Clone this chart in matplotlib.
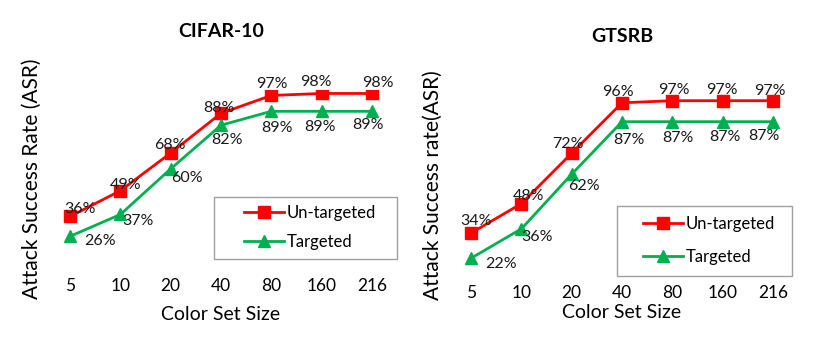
import matplotlib
matplotlib.use("Agg")
import matplotlib.pyplot as plt
from matplotlib.patches import Rectangle

plt.rcParams['font.family'] = ['Lato', 'DejaVu Sans']

sizes = ['5', '10', '20', '40', '80', '160', '216']

cifar_untargeted = [36, 49, 68, 88, 97, 98, 98]
cifar_targeted = [26, 37, 60, 82, 89, 89, 89]

gtsrb_untargeted = [34, 48, 72, 96, 97, 97, 97]
gtsrb_targeted = [22, 36, 62, 87, 87, 87, 87]

# label offsets in pixels (dx, dy), hand placed like the original
cifar_un_off = [(10, 7), (5, 6), (-1, 8), (-2, 5), (1, 11), (-6, 11), (6, 10)]
cifar_tg_off = [(30, -5), (18, -7), (16, -9), (6, -15), (6, -17), (-2, -16), (-4, -14)]
gtsrb_un_off = [(5, 12), (7, 8), (-4, 9), (-4, 11), (2, 11), (-1, 11), (-3, 10)]
gtsrb_tg_off = [(30, -6), (16, -8), (12, -12), (7, -18), (6, -16), (2, -15), (-9, -14)]

RED = '#FF0000'
GREEN = '#00B050'
W, H = 815, 350

fig = plt.figure(figsize=(8.15, 3.5), dpi=100)
ax1 = fig.add_axes([45 / W, 1 - 268 / H, 352 / W, 178.5 / H])
ax2 = fig.add_axes([446 / W, 1 - 275 / H, 352 / W, 180.6 / H])


def draw(ax, untargeted, targeted, un_off, tg_off, title, ylabel, ylim, xlabelpad,
         box, leg_anchor, leg_spacing):
    x = range(len(sizes))
    ax.plot(x, untargeted, color=RED, lw=2, marker='s', ms=8, label='Un-targeted')
    ax.plot(x, targeted, color=GREEN, lw=2, marker='^', ms=8, label='Targeted')
    for i, v in enumerate(untargeted):
        ax.annotate(f'{v}%', (i, v), xytext=un_off[i], textcoords='offset pixels',
                    ha='center', va='center', fontsize=11.5, color='#1a1a1a')
    for i, v in enumerate(targeted):
        ax.annotate(f'{v}%', (i, v), xytext=tg_off[i], textcoords='offset pixels',
                    ha='center', va='center', fontsize=11.5, color='#1a1a1a')
    ax.set_xlim(-0.5, len(sizes) - 0.5)
    ax.set_ylim(*ylim)
    ax.set_xticks(list(x))
    ax.set_xticklabels(sizes, fontsize=12.5)
    ax.set_yticks([])
    ax.tick_params(axis='x', length=0, pad=7)
    for s in ax.spines.values():
        s.set_visible(False)
    ax.set_title(title, fontsize=14, fontweight='bold', pad=38)
    ax.set_xlabel('Color Set Size', fontsize=14, labelpad=xlabelpad)
    ax.set_ylabel(ylabel, fontsize=15, labelpad=2)

    # legend box (Excel style: wide side padding, tight vertical padding)
    x0, y0, x1, y1 = box
    fig.patches.append(Rectangle((x0 / W, 1 - y1 / H), (x1 - x0) / W, (y1 - y0) / H,
                                 transform=fig.transFigure, fill=False,
                                 edgecolor='#A0A0A0', lw=1.0))
    ax.legend(loc='center left', bbox_to_anchor=(leg_anchor[0] / W, 1 - leg_anchor[1] / H),
              bbox_transform=fig.transFigure, fontsize=12, frameon=False,
              handlelength=2.4, handletextpad=0.15, borderpad=0, borderaxespad=0,
              labelspacing=leg_spacing)


draw(ax1, cifar_untargeted, cifar_targeted, cifar_un_off, cifar_tg_off,
     'CIFAR-10', 'Attack Success Rate (ASR)', (10, 100), 9,
     (214, 197, 397, 259), (244, 227.5), 0.8)
draw(ax2, gtsrb_untargeted, gtsrb_targeted, gtsrb_un_off, gtsrb_tg_off,
     'GTSRB', 'Attack Success rate(ASR)', (14, 100), 2,
     (617, 206, 792, 276), (643, 240.5), 1.05)

fig.savefig('out.png', dpi=100)
